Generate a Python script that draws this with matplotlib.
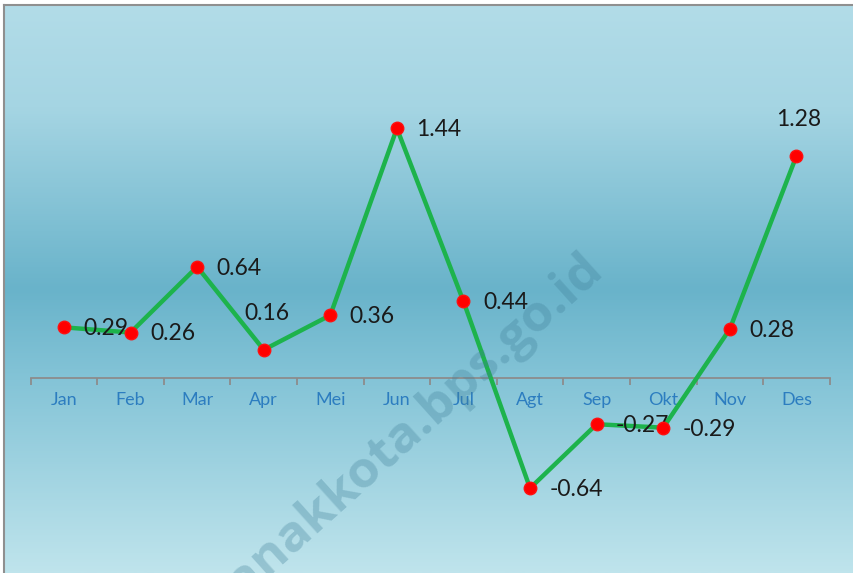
import numpy as np
import matplotlib
matplotlib.use("Agg")
import matplotlib.pyplot as plt
from matplotlib.colors import LinearSegmentedColormap

months = ["Jan", "Feb", "Mar", "Apr", "Mei", "Jun", "Jul", "Agt", "Sep", "Okt", "Nov", "Des"]
values = [0.29, 0.26, 0.64, 0.16, 0.36, 1.44, 0.44, -0.64, -0.27, -0.29, 0.28, 1.28]
label_side = ["right", "right", "right", "above", "right", "right", "right", "right",
              "right", "right", "right", "above"]
watermark = "pontianakkota.bps.go.id"

W, H = 854, 573
fig = plt.figure(figsize=(W / 100, H / 100), dpi=100)
fig.patch.set_facecolor("white")

# background gradient
bg = fig.add_axes([5 / W, 0, 1 - 5 / W, 1 - 5 / H])
bg.set_axis_off()
stops = [(0.0, "#b2dce8"), (0.18, "#a5d5e3"), (0.50, "#69b3ca"), (0.66, "#84c4d7"),
         (1.0, "#bfe4ec")]
cmap = LinearSegmentedColormap.from_list("bgg", stops)
grad = np.linspace(0, 1, 512).reshape(-1, 1)
bg.imshow(grad, aspect="auto", cmap=cmap, extent=[0, 1, 0, 1], origin="upper")
bg.set_xlim(0, 1)
bg.set_ylim(0, 1)

# border lines (top and left)
fig.add_artist(plt.Line2D([4.5 / W, 4.5 / W], [0, 1 - 4.5 / H], color="#8f8f8f", lw=1.5,
                          transform=fig.transFigure))
fig.add_artist(plt.Line2D([4.5 / W, 1], [1 - 4.5 / H, 1 - 4.5 / H], color="#8f8f8f", lw=1.5,
                          transform=fig.transFigure))

# watermark
fig.text(596 / W, 1 - 262 / H, watermark, rotation=42, rotation_mode="anchor",
         ha="right", va="center", fontsize=37, fontweight="bold", family="Open Sans",
         color=(0.25, 0.50, 0.60, 0.32), zorder=1)

ax = fig.add_axes([0, 0, 1, 1])
ax.patch.set_alpha(0)
x = np.arange(len(months))
px_unit = 66.58
ax.set_xlim(-64 / px_unit, (W - 64) / px_unit)
ppu = 173.0
zero_px = 377.5
ax.set_ylim(-(H - zero_px) / ppu, zero_px / ppu)

for s in ["top", "right", "left"]:
    ax.spines[s].set_visible(False)
ax.spines["bottom"].set_position(("data", 0))
ax.spines["bottom"].set_bounds(-0.5, len(months) - 0.5)
ax.spines["bottom"].set_color("#8c8c8c")
ax.spines["bottom"].set_linewidth(1.3)
ax.set_yticks([])
ax.set_xticks(x)
ax.set_xticklabels(months, color="#2c7dc0", fontsize=13, family="Lato")
ax.tick_params(axis="x", which="major", length=0, pad=10.5)
ax.set_xticks(np.arange(-0.5, len(months)), minor=True)
ax.tick_params(axis="x", which="minor", length=5, color="#8c8c8c", width=1.3, direction="out")

ax.plot(x, values, color="#1db34c", lw=3.2, zorder=3)
ax.plot(x, values, "o", ms=9, color="#ff0000", mec="#ff1010", zorder=5)

for xi, v, side in zip(x, values, label_side):
    txt = f"{v:.2f}"
    if side == "right":
        ax.annotate(txt, (xi, v), xytext=(14, -1), textcoords="offset points",
                    ha="left", va="center", fontsize=16.5, family="Lato", color="#1a1a1a", zorder=4)
    else:
        ax.annotate(txt, (xi, v), xytext=(2, 26), textcoords="offset points",
                    ha="center", va="center", fontsize=16.5, family="Lato", color="#1a1a1a", zorder=4)

fig.savefig("out.png", dpi=100)
